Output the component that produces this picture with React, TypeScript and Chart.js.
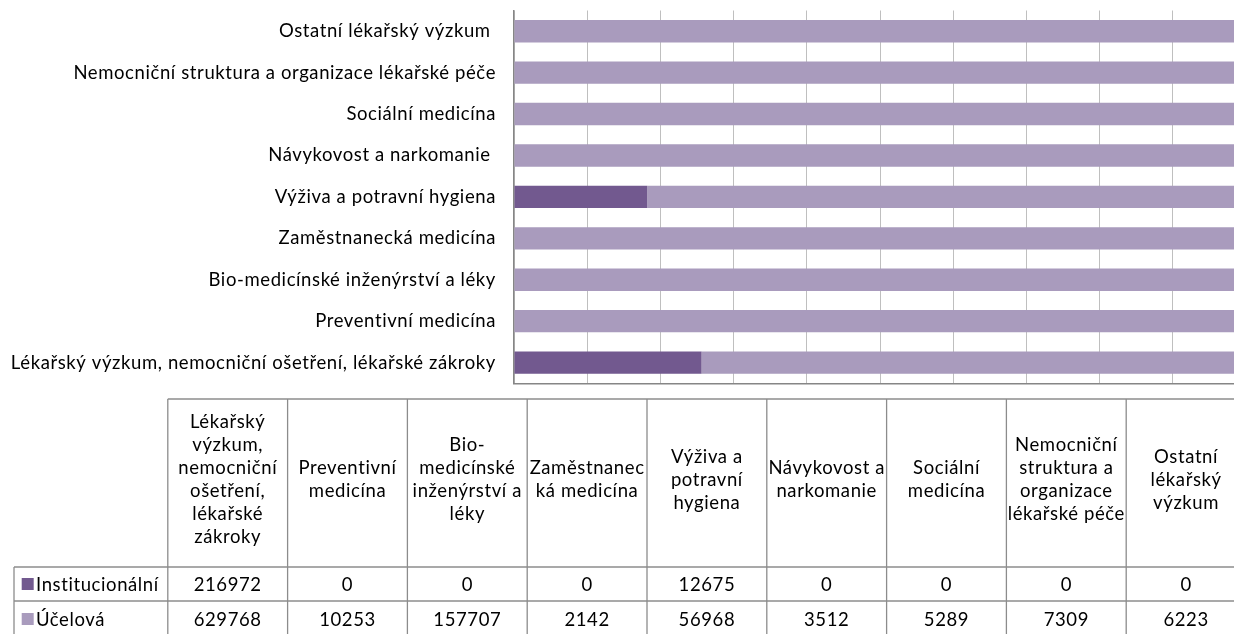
import React, { useEffect, useRef } from 'react';
import { Chart, registerables } from 'chart.js';

Chart.register(...registerables);

const categories = [
  'Lékařský výzkum, nemocniční ošetření, lékařské zákroky',
  'Preventivní medicína',
  'Bio-medicínské inženýrství a léky',
  'Zaměstnanecká medicína',
  'Výživa a potravní hygiena',
  'Návykovost a narkomanie ',
  'Sociální medicína',
  'Nemocniční struktura a organizace lékařské péče',
  'Ostatní lékařský výzkum ',
];

const headerLines = [
  ['Lékařský', 'výzkum,', 'nemocniční', 'ošetření,', 'lékařské', 'zákroky'],
  ['Preventivní', 'medicína'],
  ['Bio-', 'medicínské', 'inženýrství a', 'léky'],
  ['Zaměstnanec', 'ká medicína'],
  ['Výživa a', 'potravní', 'hygiena'],
  ['Návykovost a', 'narkomanie'],
  ['Sociální', 'medicína'],
  ['Nemocniční', 'struktura a', 'organizace', 'lékařské péče'],
  ['Ostatní', 'lékařský', 'výzkum'],
];

const institucionalni = [216972, 0, 0, 0, 12675, 0, 0, 0, 0];
const ucelova = [629768, 10253, 157707, 2142, 56968, 3512, 5289, 7309, 6223];
const seriesNames = ['Institucionální', 'Účelová'];
const seriesColors = ['#72598F', '#A99BBD'];
const xTickValues = [0, 10, 20, 30, 40, 50, 60, 70, 80, 90, 100];

const FONT = 'Lato';
const TXT = 18.5;
const SPACING = '0.6px';

const totals = categories.map((_, i) => institucionalni[i] + ucelova[i]);
const pct = (arr: number[]) => arr.map((v, i) => (totals[i] ? (v / totals[i]) * 100 : 0));

const spacingPlugin = {
  id: 'spacing',
  beforeDraw(chart: any) {
    (chart.ctx as any).letterSpacing = SPACING;
  },
};

const tablePlugin = {
  id: 'dataTable',
  afterDraw(chart: any) {
    const ctx = chart.ctx as CanvasRenderingContext2D;
    const right = chart.chartArea.right;
    const n = categories.length;
    const colW = 119.8;
    const left = right - colW * n;
    const top = 399;
    const headBottom = 567;
    const row1Bottom = 601;
    const row2Bottom = 635;
    const rowHeadLeft = 14;
    ctx.save();
    (ctx as any).letterSpacing = SPACING;
    ctx.strokeStyle = '#8C8C8C';
    ctx.lineWidth = 1.3;
    const line = (x1: number, y1: number, x2: number, y2: number) => {
      ctx.beginPath();
      ctx.moveTo(x1, y1);
      ctx.lineTo(x2, y2);
      ctx.stroke();
    };
    line(left, top, right, top);
    line(rowHeadLeft, headBottom, right, headBottom);
    line(rowHeadLeft, row1Bottom, right, row1Bottom);
    line(rowHeadLeft, row2Bottom, right, row2Bottom);
    for (let i = 0; i <= n; i++) line(left + i * colW, top, left + i * colW, row2Bottom);
    line(rowHeadLeft, headBottom, rowHeadLeft, row2Bottom);

    ctx.fillStyle = '#000';
    ctx.font = `${TXT}px ${FONT}`;
    ctx.textAlign = 'center';
    ctx.textBaseline = 'middle';
    const lh = 23;
    const headMid = (top + headBottom) / 2 - 3;
    headerLines.forEach((lines, i) => {
      const cx = left + (i + 0.5) * colW;
      const y0 = headMid - ((lines.length - 1) * lh) / 2;
      lines.forEach((t, j) => ctx.fillText(t, cx, y0 + j * lh));
    });
    const rows = [institucionalni, ucelova];
    const rowMids = [(headBottom + row1Bottom) / 2 + 1, (row1Bottom + row2Bottom) / 2 + 2];
    rows.forEach((r, k) => {
      r.forEach((v, i) => {
        ctx.fillText(String(v), left + (i + 0.5) * colW, rowMids[k]);
      });
    });
    ctx.textAlign = 'left';
    seriesNames.forEach((name, k) => {
      ctx.fillStyle = seriesColors[k];
      ctx.fillRect(21.7, rowMids[k] - 7, 12, 12);
      ctx.fillStyle = '#000';
      ctx.fillText(name, 36, rowMids[k]);
    });
    ctx.restore();
  },
};

export default function App() {
  const ref = useRef<HTMLCanvasElement>(null);
  useEffect(() => {
    document.body.style.margin = '0';
    const chart = new Chart(ref.current!, {
      type: 'bar',
      data: {
        labels: categories,
        datasets: [
          {
            label: seriesNames[0],
            data: pct(institucionalni),
            backgroundColor: seriesColors[0],
            barPercentage: 0.54,
            categoryPercentage: 1,
          },
          {
            label: seriesNames[1],
            data: pct(ucelova),
            backgroundColor: seriesColors[1],
            barPercentage: 0.54,
            categoryPercentage: 1,
          },
        ],
      },
      options: {
        indexAxis: 'y',
        responsive: false,
        animation: false,
        devicePixelRatio: 1,
        layout: { padding: { left: 0, top: 10.5, right: 14, bottom: 266.7 } },
        plugins: { legend: { display: false }, tooltip: { enabled: false } },
        scales: {
          x: {
            stacked: true,
            min: 0,
            max: 100,
            afterBuildTicks: (s: any) => {
              s.ticks = xTickValues.map((v) => ({ value: v }));
            },
            afterFit: (s: any) => {
              s.height = 0;
              s.paddingLeft = 0;
              s.paddingRight = 0;
              s.paddingTop = 0;
              s.paddingBottom = 0;
            },
            ticks: { display: false },
            grid: { color: '#BFBFBF', lineWidth: 1, drawTicks: false },
            border: { display: true, color: '#868686', width: 1.4 },
          },
          y: {
            stacked: true,
            reverse: true,
            afterFit: (s: any) => {
              s.width = 514;
              s.paddingTop = 0;
              s.paddingBottom = 0;
              s.paddingLeft = 0;
              s.paddingRight = 0;
            },
            ticks: { color: '#000', padding: 18, font: { family: FONT, size: TXT } },
            grid: { display: false, drawTicks: false },
            border: { display: true, color: '#868686', width: 1.4 },
          },
        },
      },
      plugins: [spacingPlugin, tablePlugin],
    });
    return () => chart.destroy();
  }, []);
  return (
    <div style={{ position: 'fixed', left: 0, top: 0, width: 1234, height: 634, overflow: 'hidden', background: '#fff' }}>
      <canvas ref={ref} width={1260} height={650} style={{ display: 'block' }} />
    </div>
  );
}
